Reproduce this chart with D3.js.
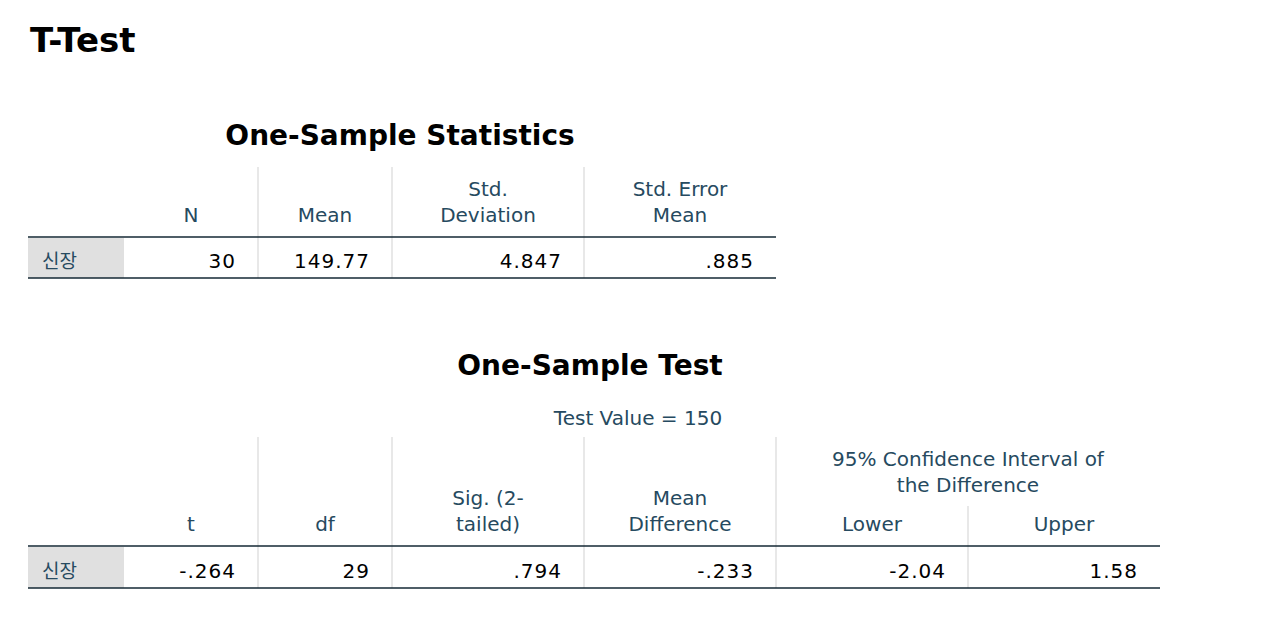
<!DOCTYPE html>
<html><head><meta charset="utf-8">
<script src="https://cdn.jsdelivr.net/npm/d3@7"></script>
<style>body{margin:0;background:#fff}</style>
</head><body>
<svg id="c" width="1280" height="622"></svg>
<script>
// data
const rowLabel = "신장";
const statsHeaders = [["N"], ["Mean"], ["Std.", "Deviation"], ["Std. Error", "Mean"]];
const statsValues = ["30", "149.77", "4.847", ".885"];
const testHeaders = [["t"], ["df"], ["Sig. (2-", "tailed)"], ["Mean", "Difference"], ["Lower"], ["Upper"]];
const testValues = ["-.264", "29", ".794", "-.233", "-2.04", "1.58"];
const testValueLabel = "Test Value = 150";
const ciLabel = ["95% Confidence Interval of", "the Difference"];

const svg = d3.select("#c");
const FONT = "'DejaVu Sans', sans-serif";
const HEAD = "#264a60";
const KR = "'Noto Sans CJK KR', sans-serif";

svg.append("text").attr("x", 30).attr("y", 52).attr("font-family", FONT)
  .attr("font-weight", "bold").attr("font-size", 34).text("T-Test");

function drawTable(o) {
  const g = svg.append("g");
  const edges = [28, 124].concat(o.cols);
  const x = d3.scaleOrdinal().domain(d3.range(edges.length)).range(edges);
  const right = edges[edges.length - 1];
  g.append("text").attr("x", o.titleX).attr("y", o.titleY).attr("text-anchor", "middle")
    .attr("font-family", FONT).attr("font-weight", "bold").attr("font-size", 28).text(o.title);
  // gray label cell
  g.append("rect").attr("x", 28).attr("y", o.hBot + 1).attr("width", 96).attr("height", o.rBot - o.hBot - 1).attr("fill", "#e0e0e0");
  g.append("text").attr("x", 42).attr("y", o.rBot - 10).attr("font-family", KR)
    .attr("font-size", 19).attr("fill", HEAD).text(rowLabel);
  // vertical lines
  g.selectAll(".v").data(d3.range(2, edges.length - 1)).join("line")
    .attr("x1", i => x(i)).attr("x2", i => x(i))
    .attr("y1", i => (o.split && i === o.split) ? o.subTop : o.hTop).attr("y2", o.rBot)
    .attr("stroke", "#d9d9d9").attr("stroke-width", 1.2);
  // horizontal lines
  g.append("line").attr("x1", 28).attr("x2", right).attr("y1", o.hBot).attr("y2", o.hBot).attr("stroke", "#152935").attr("stroke-width", 1.6);
  g.append("line").attr("x1", 28).attr("x2", right).attr("y1", o.rBot).attr("y2", o.rBot).attr("stroke", "#152935").attr("stroke-width", 1.6);
  // headers
  o.headers.forEach((h, i) => {
    const cx = (x(i + 1) + x(i + 2)) / 2;
    h.forEach((line, j) => {
      g.append("text").attr("x", cx).attr("y", o.hBot - 15 - (h.length - 1 - j) * 26)
        .attr("text-anchor", "middle").attr("font-family", FONT).attr("font-size", 20)
        .attr("fill", HEAD).text(line);
    });
  });
  // values
  g.selectAll(".val").data(o.values).join("text")
    .attr("x", (d, i) => x(i + 2) - 22).attr("y", o.rBot - 10).attr("text-anchor", "end")
    .attr("font-family", FONT).attr("font-size", 20).attr("letter-spacing", 1).attr("fill", "#000").text(d => d);
  return x;
}

drawTable({title: "One-Sample Statistics", titleX: 400, titleY: 145,
  cols: [258, 392, 584, 776], hTop: 167, hBot: 237, rBot: 278,
  headers: statsHeaders, values: statsValues});

const x2 = drawTable({title: "One-Sample Test", titleX: 590, titleY: 375,
  cols: [258, 392, 584, 776, 968, 1160], hTop: 437, subTop: 506, split: 6, hBot: 546, rBot: 588,
  headers: testHeaders, values: testValues});

svg.append("text").attr("x", 638).attr("y", 425).attr("text-anchor", "middle")
  .attr("font-family", FONT).attr("font-size", 20).attr("fill", HEAD).text(testValueLabel);
ciLabel.forEach((t, j) => svg.append("text").attr("x", (x2(5) + x2(7)) / 2).attr("y", 466 + j * 26)
  .attr("text-anchor", "middle").attr("font-family", FONT).attr("font-size", 20).attr("fill", HEAD).text(t));
</script>
</body></html>
